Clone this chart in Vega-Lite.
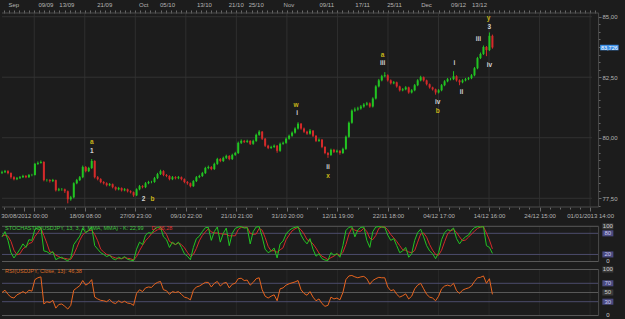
{
"$schema": "https://vega.github.io/schema/vega-lite/v6.json",
"width": 625, "height": 319,
"autosize": {"type": "fit", "contains": "padding"},
"padding": 0,
"background": "#1c1c1c",
"config": {"view": {"stroke": null}, "font": "Liberation Sans", "axis": {"labelFont": "Liberation Sans", "labelFontSize": 6, "labelColor": "#b4b4b4", "tickColor": "#6a6a6a", "domainColor": "#555555"}, "text": {"font": "Liberation Sans"}},
"datasets": {
"bars": [
{"i":0,"o":78.55,"h":78.64,"l":78.50,"c":78.58,"k":70,"d":72,"r":50},
{"i":1,"o":78.58,"h":78.67,"l":78.54,"c":78.62,"k":85,"d":75,"r":55},
{"i":2,"o":78.62,"h":78.66,"l":78.49,"c":78.54,"k":60,"d":72,"r":46},
{"i":3,"o":78.54,"h":78.57,"l":78.31,"c":78.37,"k":25,"d":57,"r":40},
{"i":4,"o":78.37,"h":78.41,"l":78.24,"c":78.29,"k":10,"d":32,"r":38},
{"i":5,"o":78.29,"h":78.38,"l":78.25,"c":78.33,"k":22,"d":19,"r":45},
{"i":6,"o":78.33,"h":78.42,"l":78.30,"c":78.37,"k":35,"d":22,"r":48},
{"i":7,"o":78.37,"h":78.47,"l":78.34,"c":78.42,"k":50,"d":36,"r":52},
{"i":8,"o":78.42,"h":78.46,"l":78.33,"c":78.37,"k":40,"d":42,"r":48},
{"i":9,"o":78.37,"h":78.50,"l":78.34,"c":78.46,"k":62,"d":51,"r":55},
{"i":10,"o":78.46,"h":78.51,"l":78.41,"c":78.46,"k":60,"d":54,"r":53},
{"i":11,"o":78.46,"h":78.96,"l":78.44,"c":78.92,"k":92,"d":71,"r":78},
{"i":12,"o":78.92,"h":79.02,"l":78.88,"c":78.96,"k":95,"d":82,"r":82},
{"i":13,"o":78.96,"h":79.06,"l":78.93,"c":79.00,"k":97,"d":95,"r":84},
{"i":14,"o":79.00,"h":79.03,"l":78.20,"c":78.25,"k":30,"d":74,"r":25},
{"i":15,"o":78.25,"h":78.30,"l":78.19,"c":78.25,"k":28,"d":52,"r":30},
{"i":16,"o":78.25,"h":78.29,"l":78.15,"c":78.21,"k":22,"d":27,"r":28},
{"i":17,"o":78.21,"h":78.30,"l":78.17,"c":78.25,"k":28,"d":26,"r":33},
{"i":18,"o":78.25,"h":78.27,"l":77.78,"c":77.83,"k":5,"d":18,"r":16},
{"i":19,"o":77.83,"h":77.93,"l":77.79,"c":77.87,"k":10,"d":14,"r":24},
{"i":20,"o":77.87,"h":77.92,"l":77.81,"c":77.87,"k":12,"d":9,"r":25},
{"i":21,"o":77.87,"h":77.90,"l":77.72,"c":77.79,"k":6,"d":9,"r":20},
{"i":22,"o":77.79,"h":77.82,"l":77.29,"c":77.46,"k":2,"d":7,"r":14},
{"i":23,"o":77.46,"h":77.60,"l":77.40,"c":77.54,"k":10,"d":6,"r":22},
{"i":24,"o":77.54,"h":78.16,"l":77.50,"c":78.12,"k":48,"d":20,"r":55},
{"i":25,"o":78.12,"h":78.30,"l":78.08,"c":78.25,"k":60,"d":39,"r":60},
{"i":26,"o":78.25,"h":78.42,"l":78.21,"c":78.37,"k":72,"d":60,"r":65},
{"i":27,"o":78.37,"h":78.85,"l":78.33,"c":78.79,"k":95,"d":76,"r":76},
{"i":28,"o":78.79,"h":78.83,"l":78.57,"c":78.62,"k":82,"d":83,"r":66},
{"i":29,"o":78.62,"h":78.80,"l":78.58,"c":78.75,"k":88,"d":88,"r":70},
{"i":30,"o":78.75,"h":79.12,"l":78.71,"c":79.04,"k":98,"d":89,"r":78},
{"i":31,"o":79.04,"h":79.07,"l":78.32,"c":78.37,"k":45,"d":77,"r":40},
{"i":32,"o":78.37,"h":78.42,"l":78.24,"c":78.29,"k":35,"d":59,"r":36},
{"i":33,"o":78.29,"h":78.33,"l":78.12,"c":78.17,"k":25,"d":35,"r":33},
{"i":34,"o":78.17,"h":78.21,"l":78.07,"c":78.12,"k":20,"d":27,"r":32},
{"i":35,"o":78.12,"h":78.16,"l":77.99,"c":78.04,"k":14,"d":20,"r":30},
{"i":36,"o":78.04,"h":78.13,"l":78.00,"c":78.08,"k":18,"d":17,"r":35},
{"i":37,"o":78.08,"h":78.11,"l":77.91,"c":77.96,"k":8,"d":13,"r":28},
{"i":38,"o":77.96,"h":77.99,"l":77.82,"c":77.87,"k":5,"d":10,"r":26},
{"i":39,"o":77.87,"h":77.97,"l":77.83,"c":77.92,"k":12,"d":8,"r":32},
{"i":40,"o":77.92,"h":77.95,"l":77.78,"c":77.83,"k":8,"d":8,"r":28},
{"i":41,"o":77.83,"h":77.92,"l":77.79,"c":77.87,"k":14,"d":11,"r":31},
{"i":42,"o":77.87,"h":77.90,"l":77.74,"c":77.79,"k":6,"d":9,"r":27},
{"i":43,"o":77.79,"h":77.83,"l":77.70,"c":77.75,"k":4,"d":8,"r":26},
{"i":44,"o":77.75,"h":77.78,"l":77.56,"c":77.62,"k":2,"d":4,"r":22},
{"i":45,"o":77.62,"h":77.91,"l":77.59,"c":77.87,"k":35,"d":14,"r":48},
{"i":46,"o":77.87,"h":78.05,"l":77.83,"c":78.00,"k":55,"d":31,"r":56},
{"i":47,"o":78.00,"h":78.04,"l":77.91,"c":77.96,"k":48,"d":46,"r":52},
{"i":48,"o":77.96,"h":78.17,"l":77.92,"c":78.12,"k":75,"d":59,"r":60},
{"i":49,"o":78.12,"h":78.22,"l":78.08,"c":78.17,"k":82,"d":68,"r":62},
{"i":50,"o":78.17,"h":78.22,"l":78.12,"c":78.17,"k":80,"d":79,"r":61},
{"i":51,"o":78.17,"h":78.38,"l":78.14,"c":78.33,"k":92,"d":85,"r":68},
{"i":52,"o":78.33,"h":78.55,"l":78.29,"c":78.50,"k":97,"d":90,"r":72},
{"i":53,"o":78.50,"h":78.68,"l":78.46,"c":78.62,"k":98,"d":96,"r":74},
{"i":54,"o":78.62,"h":78.66,"l":78.41,"c":78.46,"k":70,"d":88,"r":56},
{"i":55,"o":78.46,"h":78.50,"l":78.37,"c":78.42,"k":62,"d":77,"r":54},
{"i":56,"o":78.42,"h":78.45,"l":78.24,"c":78.29,"k":40,"d":57,"r":46},
{"i":57,"o":78.29,"h":78.42,"l":78.25,"c":78.37,"k":55,"d":52,"r":52},
{"i":58,"o":78.37,"h":78.41,"l":78.28,"c":78.33,"k":48,"d":48,"r":50},
{"i":59,"o":78.33,"h":78.42,"l":78.29,"c":78.37,"k":55,"d":53,"r":52},
{"i":60,"o":78.37,"h":78.40,"l":78.24,"c":78.29,"k":40,"d":48,"r":46},
{"i":61,"o":78.29,"h":78.32,"l":78.12,"c":78.17,"k":22,"d":39,"r":40},
{"i":62,"o":78.17,"h":78.21,"l":78.06,"c":78.12,"k":15,"d":26,"r":38},
{"i":63,"o":78.12,"h":78.15,"l":77.95,"c":78.00,"k":5,"d":14,"r":34},
{"i":64,"o":78.00,"h":78.25,"l":77.97,"c":78.21,"k":40,"d":20,"r":55},
{"i":65,"o":78.21,"h":78.42,"l":78.17,"c":78.37,"k":65,"d":37,"r":62},
{"i":66,"o":78.37,"h":78.47,"l":78.33,"c":78.42,"k":72,"d":59,"r":64},
{"i":67,"o":78.42,"h":78.59,"l":78.38,"c":78.54,"k":85,"d":74,"r":68},
{"i":68,"o":78.54,"h":78.80,"l":78.50,"c":78.75,"k":96,"d":84,"r":72},
{"i":69,"o":78.75,"h":78.85,"l":78.70,"c":78.79,"k":97,"d":93,"r":72},
{"i":70,"o":78.79,"h":78.83,"l":78.66,"c":78.71,"k":60,"d":84,"r":62},
{"i":71,"o":78.71,"h":78.97,"l":78.67,"c":78.92,"k":85,"d":81,"r":70},
{"i":72,"o":78.92,"h":79.17,"l":78.88,"c":79.12,"k":98,"d":81,"r":74},
{"i":73,"o":79.12,"h":79.16,"l":78.99,"c":79.04,"k":55,"d":79,"r":64},
{"i":74,"o":79.04,"h":79.22,"l":79.00,"c":79.17,"k":80,"d":78,"r":70},
{"i":75,"o":79.17,"h":79.30,"l":79.12,"c":79.25,"k":95,"d":77,"r":72},
{"i":76,"o":79.25,"h":79.28,"l":79.07,"c":79.12,"k":45,"d":73,"r":60},
{"i":77,"o":79.12,"h":79.34,"l":79.08,"c":79.29,"k":80,"d":73,"r":68},
{"i":78,"o":79.29,"h":79.42,"l":79.25,"c":79.37,"k":94,"d":73,"r":70},
{"i":79,"o":79.37,"h":79.84,"l":79.33,"c":79.79,"k":98,"d":91,"r":80},
{"i":80,"o":79.79,"h":79.93,"l":79.74,"c":79.87,"k":99,"d":97,"r":81},
{"i":81,"o":79.87,"h":79.91,"l":79.78,"c":79.83,"k":95,"d":97,"r":76},
{"i":82,"o":79.83,"h":79.92,"l":79.79,"c":79.87,"k":96,"d":97,"r":77},
{"i":83,"o":79.87,"h":79.90,"l":79.70,"c":79.75,"k":50,"d":80,"r":66},
{"i":84,"o":79.75,"h":79.92,"l":79.71,"c":79.87,"k":85,"d":77,"r":72},
{"i":85,"o":79.87,"h":80.17,"l":79.83,"c":80.12,"k":98,"d":78,"r":80},
{"i":86,"o":80.12,"h":80.31,"l":80.08,"c":80.25,"k":99,"d":94,"r":82},
{"i":87,"o":80.25,"h":80.28,"l":79.91,"c":79.96,"k":70,"d":89,"r":56},
{"i":88,"o":79.96,"h":79.99,"l":79.62,"c":79.67,"k":35,"d":68,"r":42},
{"i":89,"o":79.67,"h":79.71,"l":79.53,"c":79.58,"k":25,"d":43,"r":38},
{"i":90,"o":79.58,"h":79.67,"l":79.54,"c":79.62,"k":30,"d":30,"r":42},
{"i":91,"o":79.62,"h":79.72,"l":79.58,"c":79.67,"k":38,"d":31,"r":45},
{"i":92,"o":79.67,"h":79.70,"l":79.38,"c":79.46,"k":10,"d":26,"r":32},
{"i":93,"o":79.46,"h":79.80,"l":79.42,"c":79.75,"k":50,"d":33,"r":58},
{"i":94,"o":79.75,"h":79.84,"l":79.71,"c":79.79,"k":58,"d":39,"r":60},
{"i":95,"o":79.79,"h":80.01,"l":79.75,"c":79.96,"k":78,"d":62,"r":66},
{"i":96,"o":79.96,"h":80.13,"l":79.92,"c":80.08,"k":88,"d":75,"r":69},
{"i":97,"o":80.08,"h":80.26,"l":80.04,"c":80.21,"k":94,"d":87,"r":71},
{"i":98,"o":80.21,"h":80.43,"l":80.17,"c":80.38,"k":97,"d":93,"r":73},
{"i":99,"o":80.38,"h":80.64,"l":80.34,"c":80.58,"k":99,"d":97,"r":76},
{"i":100,"o":80.58,"h":80.61,"l":80.33,"c":80.38,"k":75,"d":90,"r":56},
{"i":101,"o":80.38,"h":80.42,"l":80.20,"c":80.25,"k":60,"d":78,"r":48},
{"i":102,"o":80.25,"h":80.29,"l":80.12,"c":80.17,"k":50,"d":62,"r":44},
{"i":103,"o":80.17,"h":80.36,"l":80.13,"c":80.29,"k":65,"d":58,"r":52},
{"i":104,"o":80.29,"h":80.32,"l":80.03,"c":80.08,"k":35,"d":50,"r":40},
{"i":105,"o":80.08,"h":80.11,"l":79.82,"c":79.87,"k":15,"d":38,"r":32},
{"i":106,"o":79.87,"h":79.97,"l":79.83,"c":79.92,"k":22,"d":24,"r":36},
{"i":107,"o":79.92,"h":79.95,"l":79.57,"c":79.62,"k":8,"d":15,"r":26},
{"i":108,"o":79.62,"h":79.65,"l":79.32,"c":79.37,"k":4,"d":11,"r":20},
{"i":109,"o":79.37,"h":79.41,"l":79.17,"c":79.29,"k":3,"d":5,"r":22},
{"i":110,"o":79.29,"h":79.55,"l":79.25,"c":79.50,"k":25,"d":11,"r":40},
{"i":111,"o":79.50,"h":79.54,"l":79.37,"c":79.42,"k":18,"d":15,"r":36},
{"i":112,"o":79.42,"h":79.51,"l":79.38,"c":79.46,"k":22,"d":22,"r":38},
{"i":113,"o":79.46,"h":79.49,"l":79.30,"c":79.37,"k":12,"d":17,"r":34},
{"i":114,"o":79.37,"h":79.59,"l":79.33,"c":79.54,"k":45,"d":26,"r":50},
{"i":115,"o":79.54,"h":80.09,"l":79.50,"c":80.04,"k":88,"d":48,"r":78},
{"i":116,"o":80.04,"h":80.67,"l":80.00,"c":80.62,"k":97,"d":77,"r":86},
{"i":117,"o":80.62,"h":81.17,"l":80.58,"c":81.12,"k":99,"d":95,"r":87},
{"i":118,"o":81.12,"h":81.25,"l":81.07,"c":81.17,"k":70,"d":89,"r":84},
{"i":119,"o":81.17,"h":81.28,"l":81.12,"c":81.21,"k":90,"d":86,"r":82},
{"i":120,"o":81.21,"h":81.35,"l":81.16,"c":81.29,"k":97,"d":86,"r":84},
{"i":121,"o":81.29,"h":81.43,"l":81.24,"c":81.37,"k":98,"d":95,"r":85},
{"i":122,"o":81.37,"h":81.48,"l":81.33,"c":81.42,"k":60,"d":85,"r":80},
{"i":123,"o":81.42,"h":81.46,"l":81.24,"c":81.29,"k":40,"d":66,"r":68},
{"i":124,"o":81.29,"h":81.67,"l":81.25,"c":81.62,"k":85,"d":62,"r":76},
{"i":125,"o":81.62,"h":82.17,"l":81.58,"c":82.12,"k":98,"d":74,"r":80},
{"i":126,"o":82.12,"h":82.43,"l":82.08,"c":82.37,"k":99,"d":94,"r":83},
{"i":127,"o":82.37,"h":82.60,"l":82.33,"c":82.54,"k":98,"d":98,"r":82},
{"i":128,"o":82.54,"h":82.71,"l":82.50,"c":82.58,"k":97,"d":98,"r":82},
{"i":129,"o":82.58,"h":82.62,"l":82.32,"c":82.37,"k":75,"d":90,"r":62},
{"i":130,"o":82.37,"h":82.41,"l":82.20,"c":82.25,"k":60,"d":77,"r":54},
{"i":131,"o":82.25,"h":82.34,"l":82.21,"c":82.29,"k":65,"d":67,"r":56},
{"i":132,"o":82.29,"h":82.32,"l":82.07,"c":82.12,"k":45,"d":57,"r":46},
{"i":133,"o":82.12,"h":82.15,"l":81.91,"c":81.96,"k":25,"d":45,"r":40},
{"i":134,"o":81.96,"h":82.05,"l":81.92,"c":82.00,"k":30,"d":33,"r":43},
{"i":135,"o":82.00,"h":82.13,"l":81.96,"c":82.08,"k":40,"d":32,"r":47},
{"i":136,"o":82.08,"h":82.11,"l":81.82,"c":81.87,"k":12,"d":27,"r":36},
{"i":137,"o":81.87,"h":82.01,"l":81.83,"c":81.96,"k":22,"d":25,"r":42},
{"i":138,"o":81.96,"h":82.22,"l":81.92,"c":82.17,"k":60,"d":31,"r":58},
{"i":139,"o":82.17,"h":82.42,"l":82.13,"c":82.37,"k":82,"d":55,"r":66},
{"i":140,"o":82.37,"h":82.56,"l":82.33,"c":82.50,"k":92,"d":78,"r":70},
{"i":141,"o":82.50,"h":82.53,"l":82.32,"c":82.37,"k":70,"d":81,"r":58},
{"i":142,"o":82.37,"h":82.40,"l":82.16,"c":82.21,"k":45,"d":69,"r":46},
{"i":143,"o":82.21,"h":82.24,"l":82.03,"c":82.08,"k":30,"d":48,"r":40},
{"i":144,"o":82.08,"h":82.11,"l":81.95,"c":82.00,"k":22,"d":32,"r":38},
{"i":145,"o":82.00,"h":82.03,"l":81.78,"c":81.87,"k":8,"d":20,"r":32},
{"i":146,"o":81.87,"h":82.01,"l":81.83,"c":81.96,"k":25,"d":18,"r":42},
{"i":147,"o":81.96,"h":82.22,"l":81.92,"c":82.17,"k":62,"d":32,"r":58},
{"i":148,"o":82.17,"h":82.38,"l":82.13,"c":82.33,"k":82,"d":56,"r":64},
{"i":149,"o":82.33,"h":82.47,"l":82.29,"c":82.42,"k":90,"d":78,"r":66},
{"i":150,"o":82.42,"h":82.47,"l":82.37,"c":82.42,"k":88,"d":87,"r":64},
{"i":151,"o":82.42,"h":82.75,"l":82.38,"c":82.54,"k":95,"d":91,"r":70},
{"i":152,"o":82.54,"h":82.58,"l":82.32,"c":82.37,"k":65,"d":83,"r":54},
{"i":153,"o":82.37,"h":82.41,"l":82.17,"c":82.29,"k":50,"d":70,"r":48},
{"i":154,"o":82.29,"h":82.42,"l":82.25,"c":82.37,"k":62,"d":59,"r":55},
{"i":155,"o":82.37,"h":82.47,"l":82.33,"c":82.42,"k":70,"d":61,"r":58},
{"i":156,"o":82.42,"h":82.51,"l":82.38,"c":82.46,"k":75,"d":69,"r":60},
{"i":157,"o":82.46,"h":82.63,"l":82.42,"c":82.58,"k":88,"d":78,"r":64},
{"i":158,"o":82.58,"h":82.92,"l":82.54,"c":82.87,"k":96,"d":86,"r":74},
{"i":159,"o":82.87,"h":83.34,"l":82.83,"c":83.29,"k":99,"d":94,"r":82},
{"i":160,"o":83.29,"h":83.52,"l":83.25,"c":83.46,"k":98,"d":98,"r":83},
{"i":161,"o":83.46,"h":83.81,"l":83.42,"c":83.75,"k":99,"d":99,"r":86},
{"i":162,"o":83.75,"h":83.79,"l":83.37,"c":83.62,"k":45,"d":81,"r":70},
{"i":163,"o":83.62,"h":84.35,"l":83.58,"c":84.21,"k":40,"d":61,"r":80},
{"i":164,"o":84.21,"h":84.26,"l":83.68,"c":83.73,"k":23,"d":36,"r":46}
],
"grid": [{"g":10.77},{"g":27.67},{"g":44.57},{"g":61.47},{"g":78.37},{"g":95.27},{"g":112.17},{"g":129.07},{"g":145.97},{"g":162.87},{"g":179.77},{"g":196.67}],
"pgrid": [{"v":77.5},{"v":80},{"v":82.5},{"v":85}],
"waves": [
{"i":30,"p":79.82,"t":"a","k":"y"},{"i":30,"p":79.45,"t":"1","k":"w"},
{"i":47.3,"p":77.47,"t":"2","k":"w"},{"i":50.3,"p":77.47,"t":"b","k":"y"},
{"i":98.3,"p":81.35,"t":"w","k":"y"},{"i":98.7,"p":81.02,"t":"i","k":"w"},
{"i":109,"p":78.79,"t":"ii","k":"w"},{"i":109,"p":78.42,"t":"x","k":"y"},
{"i":127.3,"p":83.42,"t":"a","k":"y"},{"i":127.3,"p":83.09,"t":"iii","k":"w"},
{"i":145.7,"p":81.48,"t":"iv","k":"w"},{"i":145.7,"p":81.11,"t":"b","k":"y"},
{"i":151.3,"p":83.09,"t":"i","k":"w"},{"i":153.7,"p":81.89,"t":"ii","k":"w"},
{"i":159.3,"p":84.08,"t":"iii","k":"w"},{"i":163,"p":83.0,"t":"iv","k":"w"},
{"i":163,"p":84.57,"t":"3","k":"w"},{"i":162.7,"p":84.95,"t":"y","k":"y"}
],
"tag": [{"p":83.726,"t":"83,726"}],
"slv": [{"v":100,"t":"100","k":"edge"},{"v":80,"t":"80","k":"band"},{"v":20,"t":"20","k":"band"},{"v":0,"t":"0","k":"zero"}],
"rlv": [{"v":100,"t":"100","k":"edge"},{"v":70,"t":"70","k":"band"},{"v":50,"t":"50","k":"mid"},{"v":30,"t":"30","k":"band"},{"v":0,"t":"0","k":"zero"}]
},
"resolve": {"scale": {"y": "independent"}, "axis": {"x": "independent", "y": "independent"}},
"layer": [
{"data": {"name": "grid"},
 "mark": {"type": "rule", "color": "#2f2f2f", "strokeWidth": 1},
 "encoding": {
  "x": {"field": "g", "type": "quantitative", "scale": {"domain": [0, 208.333], "nice": false, "zero": false},
   "axis": {"orient": "top", "offset": -13, "title": null, "values": [0.63,2.32,4.01,5.7,7.39,9.08,10.77,12.46,14.15,15.84,17.53,19.22,20.91,22.6,24.29,25.98,27.67,29.36,31.05,32.74,34.43,36.12,37.81,39.5,41.19,42.88,44.57,46.26,47.95,49.64,51.33,53.02,54.71,56.4,58.09,59.78,61.47,63.16,64.85,66.54,68.23,69.92,71.61,73.3,74.99,76.68,78.37,80.06,81.75,83.44,85.13,86.82,88.51,90.2,91.89,93.58,95.27,96.96,98.65,100.34,102.03,103.72,105.41,107.1,108.79,110.48,112.17,113.86,115.55,117.24,118.93,120.62,122.31,124,125.69,127.38,129.07,130.76,132.45,134.14,135.83,137.52,139.21,140.9,142.59,144.28,145.97,147.66,149.35,151.04,152.73,154.42,156.11,157.8,159.49,161.18,162.87,164.56,166.25,167.94,169.63,171.32,173.01,174.7,176.39,178.08,179.77,181.46,183.15,184.84,186.53,188.22,189.91,191.6,193.29,194.98,196.67,198.36],
    "labels": false, "grid": false, "domain": false, "tickColor": "#6a6a6a", "tickSize": 3, "minExtent": 0, "maxExtent": 0}},
  "y": {"datum": 77.139, "type": "quantitative", "scale": {"domain": [72.513, 85.69], "nice": false, "zero": false},
   "axis": {"orient": "right", "offset": -27, "title": null, "values": [77.1875,77.8125,78.125,78.4375,78.75,79.0625,79.375,79.6875,80.3125,80.625,80.9375,81.25,81.5625,81.875,82.1875,82.8125,83.125,83.4375,83.75,84.0625,84.375,84.6875],
    "labels": false, "grid": false, "domain": false, "tickSize": 2, "tickColor": "#6a6a6a", "minExtent": 0, "maxExtent": 0}},
  "y2": {"datum": 85.153}
 }},
{"data": {"name": "pgrid"},
 "mark": {"type": "rule", "color": "#323232", "strokeWidth": 1},
 "encoding": {
  "x": {"datum": 0, "type": "quantitative", "scale": {"domain": [0, 208.333], "nice": false, "zero": false}, "axis": null},
  "x2": {"datum": 197.3},
  "y": {"field": "v", "type": "quantitative", "scale": {"domain": [72.513, 85.69], "nice": false, "zero": false}, "axis": null}
 }},
{"data": {"name": "tag"},
 "mark": {"type": "rule", "color": "#4a4a4a", "strokeWidth": 1},
 "encoding": {
  "x": {"datum": 199.5, "type": "quantitative", "scale": {"domain": [0, 208.333], "nice": false, "zero": false}, "axis": null},
  "y": {"datum": 77.139, "type": "quantitative", "scale": {"domain": [72.513, 85.69], "nice": false, "zero": false}, "axis": null},
  "y2": {"datum": 85.153}
 }},
{"data": {"name": "tag"},
 "mark": {"type": "rule", "color": "#4a4a4a", "strokeWidth": 1},
 "encoding": {
  "x": {"datum": 0, "type": "quantitative", "scale": {"domain": [0, 208.333], "nice": false, "zero": false}, "axis": null},
  "x2": {"datum": 199.5},
  "y": {"datum": 85.153, "type": "quantitative", "scale": {"domain": [72.513, 85.69], "nice": false, "zero": false}, "axis": null}
 }},
{"data": {"name": "tag"},
 "mark": {"type": "rule", "color": "#4a4a4a", "strokeWidth": 1},
 "encoding": {
  "x": {"datum": 0, "type": "quantitative", "scale": {"domain": [0, 208.333], "nice": false, "zero": false}, "axis": null},
  "x2": {"datum": 199.5},
  "y": {"datum": 77.139, "type": "quantitative", "scale": {"domain": [72.513, 85.69], "nice": false, "zero": false}, "axis": null}
 }},
{"data": {"name": "bars"},
 "mark": {"type": "rule", "strokeWidth": 1},
 "encoding": {
  "x": {"field": "i", "type": "quantitative", "scale": {"domain": [0, 208.333], "nice": false, "zero": false},
   "axis": {"orient": "top", "offset": -13, "title": null, "values": [2,12,19,31.67,45.67,52.67,65,75.67,82.33,94,106,118,128.67,140,150,157],
    "labelExpr": "datum.value < 5 ? 'Sep' : datum.value < 15 ? '09/09' : datum.value < 25 ? '13/09' : datum.value < 40 ? '21/09' : datum.value < 50 ? 'Oct' : datum.value < 60 ? '05/10' : datum.value < 70 ? '13/10' : datum.value < 79 ? '21/10' : datum.value < 88 ? '25/10' : datum.value < 100 ? 'Nov' : datum.value < 112 ? '09/11' : datum.value < 124 ? '17/11' : datum.value < 134 ? '25/11' : datum.value < 145 ? 'Dec' : datum.value < 154 ? '09/12' : '13/12'",
    "labelAlign": "left", "ticks": false, "tickSize": 0, "domain": false, "grid": false, "labelPadding": 6, "labelFlush": false, "labelOverlap": false, "minExtent": 0, "maxExtent": 0, "labelColor": "#b4b4b4", "labelFontSize": 6}},
  "y": {"field": "l", "type": "quantitative", "scale": {"domain": [72.513, 85.69], "nice": false, "zero": false},
   "axis": {"orient": "right", "offset": -27, "title": null, "values": [77.5, 80, 82.5, 85],
    "labelExpr": "replace(format(datum.value, '.2f'), '.', ',')",
    "grid": false, "tickSize": 3, "tickColor": "#6a6a6a", "domain": false, "labelPadding": 1, "minExtent": 0, "maxExtent": 0, "labelFontSize": 6, "labelColor": "#b4b4b4", "labelOverlap": false, "labelFlush": false}},
  "y2": {"field": "h"},
  "color": {"condition": {"test": "datum.c >= datum.o", "value": "#22c422"}, "value": "#d42a2a"}
 }},
{"data": {"name": "bars"},
 "mark": {"type": "rule", "strokeWidth": 2, "strokeCap": "butt"},
 "encoding": {
  "x": {"field": "i", "type": "quantitative", "scale": {"domain": [0, 208.333], "nice": false, "zero": false}, "axis": null},
  "y": {"field": "o", "type": "quantitative", "scale": {"domain": [72.513, 85.69], "nice": false, "zero": false}, "axis": null},
  "y2": {"field": "c"},
  "color": {"condition": {"test": "datum.c >= datum.o", "value": "#22c422"}, "value": "#d42a2a"}
 }},
{"data": {"name": "waves"},
 "mark": {"type": "text", "fontSize": 6.5, "fontWeight": "bold", "align": "center", "baseline": "middle"},
 "encoding": {
  "x": {"field": "i", "type": "quantitative", "scale": {"domain": [0, 208.333], "nice": false, "zero": false}, "axis": null},
  "y": {"field": "p", "type": "quantitative", "scale": {"domain": [72.513, 85.69], "nice": false, "zero": false}, "axis": null},
  "text": {"field": "t"},
  "color": {"condition": {"test": "datum.k == 'y'", "value": "#c8b418"}, "value": "#d4d4d4"}
 }},
{"data": {"name": "tag"},
 "mark": {"type": "point", "shape": "M-1,-0.3L1,-0.3L1,0.3L-1,0.3Z", "size": 340, "filled": true, "opacity": 1, "color": "#3d8fe6"},
 "encoding": {
  "x": {"datum": 203.1, "type": "quantitative", "scale": {"domain": [0, 208.333], "nice": false, "zero": false}, "axis": null},
  "y": {"field": "p", "type": "quantitative", "scale": {"domain": [72.513, 85.69], "nice": false, "zero": false}, "axis": null}
 }},
{"data": {"name": "tag"},
 "mark": {"type": "text", "fontSize": 5.5, "align": "center", "baseline": "middle", "color": "#ffffff"},
 "encoding": {
  "x": {"datum": 203.1, "type": "quantitative", "scale": {"domain": [0, 208.333], "nice": false, "zero": false}, "axis": null},
  "y": {"field": "p", "type": "quantitative", "scale": {"domain": [72.513, 85.69], "nice": false, "zero": false}, "axis": null},
  "text": {"field": "t"}
 }},
{"data": {"name": "grid"},
 "mark": {"type": "rule", "color": "#272727", "strokeWidth": 1},
 "encoding": {
  "x": {"field": "g", "type": "quantitative", "scale": {"domain": [0, 208.333], "nice": false, "zero": false},
   "axis": {"orient": "bottom", "offset": -112, "title": null, "values": [7.39,10.77,27.67,44.57,61.47,78.37,95.27,112.17,129.07,145.97,162.87,179.77,196.67],
    "labelExpr": "datum.value < 9 ? '30/08/2012 00:00' : datum.value < 20 ? '' : datum.value < 30 ? '18/09 08:00' : datum.value < 50 ? '27/09 23:00' : datum.value < 70 ? '09/10 22:00' : datum.value < 85 ? '21/10 21:00' : datum.value < 100 ? '31/10 20:00' : datum.value < 120 ? '12/11 19:00' : datum.value < 135 ? '22/11 18:00' : datum.value < 150 ? '04/12 17:00' : datum.value < 170 ? '14/12 16:00' : datum.value < 185 ? '24/12 15:00' : '01/01/2013 14:00'",
    "grid": false, "domain": false, "tickColor": "#6a6a6a", "tickSize": 4,
    "labelPadding": 1, "labelFlush": false, "labelOverlap": false, "minExtent": 0, "maxExtent": 0, "labelFontSize": 6, "labelColor": "#b4b4b4"}},
  "y": {"datum": 0, "type": "quantitative", "scale": {"domain": [-163.4, 742.9], "nice": false, "zero": false}, "axis": null},
  "y2": {"datum": 100}
 }},
{"data": {"name": "slv"},
 "mark": {"type": "rule", "strokeWidth": 1},
 "encoding": {
  "x": {"datum": 0, "type": "quantitative", "scale": {"domain": [0, 208.333], "nice": false, "zero": false}, "axis": null},
  "x2": {"datum": 199.5},
  "y": {"field": "v", "type": "quantitative", "scale": {"domain": [-163.4, 742.9], "nice": false, "zero": false}, "axis": null},
  "color": {"condition": {"test": "datum.k == 'band'", "value": "#4c4c6c"}, "value": "#5a5a5a"}
 }},
{"data": {"name": "bars"},
 "mark": {"type": "line", "strokeWidth": 1, "color": "#d42a2a"},
 "encoding": {
  "x": {"field": "i", "type": "quantitative", "scale": {"domain": [0, 208.333], "nice": false, "zero": false}, "axis": null},
  "y": {"field": "d", "type": "quantitative", "scale": {"domain": [-163.4, 742.9], "nice": false, "zero": false}, "axis": null}
 }},
{"data": {"name": "bars"},
 "mark": {"type": "line", "strokeWidth": 1, "color": "#22c422"},
 "encoding": {
  "x": {"field": "i", "type": "quantitative", "scale": {"domain": [0, 208.333], "nice": false, "zero": false}, "axis": null},
  "y": {"field": "k", "type": "quantitative", "scale": {"domain": [-163.4, 742.9], "nice": false, "zero": false}, "axis": null}
 }},
{"data": {"name": "tag"},
 "mark": {"type": "text", "fontSize": 5.5, "align": "left", "baseline": "middle", "color": "#3cc83c", "text": "STOCHASTIC(USDJPY, 13, 3, 3, MMA, MMA) - K: 22,99"},
 "encoding": {
  "x": {"datum": 1, "type": "quantitative", "scale": {"domain": [0, 208.333], "nice": false, "zero": false}, "axis": null},
  "y": {"datum": 95, "type": "quantitative", "scale": {"domain": [-163.4, 742.9], "nice": false, "zero": false}, "axis": null}
 }},
{"data": {"name": "tag"},
 "mark": {"type": "text", "fontSize": 5.5, "align": "left", "baseline": "middle", "color": "#e03030", "text": "D: 36,28"},
 "encoding": {
  "x": {"datum": 50, "type": "quantitative", "scale": {"domain": [0, 208.333], "nice": false, "zero": false}, "axis": null},
  "y": {"datum": 95, "type": "quantitative", "scale": {"domain": [-163.4, 742.9], "nice": false, "zero": false}, "axis": null}
 }},
{"data": {"name": "slv"},
 "mark": {"type": "point", "shape": "M-1,-0.55L1,-0.55L1,0.55L-1,0.55Z", "size": 121, "filled": true, "strokeWidth": 0},
 "encoding": {
  "x": {"datum": 202.6, "type": "quantitative", "scale": {"domain": [0, 208.333], "nice": false, "zero": false}, "axis": null},
  "y": {"field": "v", "type": "quantitative", "scale": {"domain": [-163.4, 742.9], "nice": false, "zero": false}, "axis": null},
  "color": {"condition": {"test": "datum.k == 'band'", "value": "#4a4a80"}, "value": "#3a3a3a"},
  "opacity": {"condition": {"test": "datum.k == 'zero'", "value": 0}, "value": 1}
 }},
{"data": {"name": "slv"},
 "mark": {"type": "text", "fontSize": 6, "align": "center", "baseline": "middle"},
 "encoding": {
  "x": {"datum": 202.6, "type": "quantitative", "scale": {"domain": [0, 208.333], "nice": false, "zero": false}, "axis": null},
  "y": {"field": "v", "type": "quantitative", "scale": {"domain": [-163.4, 742.9], "nice": false, "zero": false}, "axis": null},
  "text": {"field": "t"},
  "color": {"condition": {"test": "datum.k == 'band'", "value": "#c8c8f0"}, "value": "#cccccc"}
 }},
{"data": {"name": "tag"},
 "mark": {"type": "rule", "color": "#4a4a4a", "strokeWidth": 1},
 "encoding": {
  "x": {"datum": 199.5, "type": "quantitative", "scale": {"domain": [0, 208.333], "nice": false, "zero": false}, "axis": null},
  "y": {"datum": 0, "type": "quantitative", "scale": {"domain": [-163.4, 742.9], "nice": false, "zero": false}, "axis": null},
  "y2": {"datum": 100}
 }},
{"data": {"name": "grid"},
 "mark": {"type": "rule", "color": "#272727", "strokeWidth": 1},
 "encoding": {
  "x": {"field": "g", "type": "quantitative", "scale": {"domain": [0, 208.333], "nice": false, "zero": false},
   "axis": {"orient": "bottom", "offset": -112, "title": null, "values": [0.63,4.01,7.39,14.15,17.53,20.91,24.29,31.05,34.43,37.81,41.19,47.95,51.33,54.71,58.09,64.85,68.23,71.61,74.99,81.75,85.13,88.51,91.89,98.65,102.03,105.41,108.79,115.55,118.93,122.31,125.69,132.45,135.83,139.21,142.59,149.35,152.73,156.11,159.49,166.25,169.63,173.01,176.39,183.15,186.53,189.91,193.29],
    "labels": false, "grid": false, "domain": false, "tickColor": "#6a6a6a", "tickSize": 2, "minExtent": 0, "maxExtent": 0}},
  "y": {"datum": 0, "type": "quantitative", "scale": {"domain": [-7.61, 685.87], "nice": false, "zero": false}, "axis": null},
  "y2": {"datum": 100}
 }},
{"data": {"name": "rlv"},
 "mark": {"type": "rule", "strokeWidth": 1},
 "encoding": {
  "x": {"datum": 0, "type": "quantitative", "scale": {"domain": [0, 208.333], "nice": false, "zero": false}, "axis": null},
  "x2": {"datum": 199.5},
  "y": {"field": "v", "type": "quantitative", "scale": {"domain": [-7.61, 685.87], "nice": false, "zero": false}, "axis": null},
  "color": {"condition": {"test": "datum.k == 'band'", "value": "#4c4c6c"}, "value": "#5a5a5a"}
 }},
{"data": {"name": "bars"},
 "mark": {"type": "line", "strokeWidth": 1, "color": "#e8641e"},
 "encoding": {
  "x": {"field": "i", "type": "quantitative", "scale": {"domain": [0, 208.333], "nice": false, "zero": false}, "axis": null},
  "y": {"field": "r", "type": "quantitative", "scale": {"domain": [-7.61, 685.87], "nice": false, "zero": false}, "axis": null}
 }},
{"data": {"name": "tag"},
 "mark": {"type": "text", "fontSize": 5.5, "align": "left", "baseline": "middle", "color": "#dc6e28", "text": "RSI(USDJPY, Close, 13): 46,38"},
 "encoding": {
  "x": {"datum": 1, "type": "quantitative", "scale": {"domain": [0, 208.333], "nice": false, "zero": false}, "axis": null},
  "y": {"datum": 96, "type": "quantitative", "scale": {"domain": [-7.61, 685.87], "nice": false, "zero": false}, "axis": null}
 }},
{"data": {"name": "rlv"},
 "mark": {"type": "point", "shape": "M-1,-0.55L1,-0.55L1,0.55L-1,0.55Z", "size": 121, "filled": true, "strokeWidth": 0},
 "encoding": {
  "x": {"datum": 202.6, "type": "quantitative", "scale": {"domain": [0, 208.333], "nice": false, "zero": false}, "axis": null},
  "y": {"field": "v", "type": "quantitative", "scale": {"domain": [-7.61, 685.87], "nice": false, "zero": false}, "axis": null},
  "color": {"condition": {"test": "datum.k == 'band'", "value": "#4a4a80"}, "value": "#3a3a3a"},
  "opacity": {"condition": {"test": "datum.k == 'zero'", "value": 0}, "value": 1}
 }},
{"data": {"name": "rlv"},
 "mark": {"type": "text", "fontSize": 6, "align": "center", "baseline": "middle"},
 "encoding": {
  "x": {"datum": 202.6, "type": "quantitative", "scale": {"domain": [0, 208.333], "nice": false, "zero": false}, "axis": null},
  "y": {"field": "v", "type": "quantitative", "scale": {"domain": [-7.61, 685.87], "nice": false, "zero": false}, "axis": null},
  "text": {"field": "t"},
  "color": {"condition": {"test": "datum.k == 'band'", "value": "#c8c8f0"}, "value": "#cccccc"}
 }},
{"data": {"name": "tag"},
 "mark": {"type": "rule", "color": "#4a4a4a", "strokeWidth": 1},
 "encoding": {
  "x": {"datum": 199.5, "type": "quantitative", "scale": {"domain": [0, 208.333], "nice": false, "zero": false}, "axis": null},
  "y": {"datum": 0, "type": "quantitative", "scale": {"domain": [-7.61, 685.87], "nice": false, "zero": false}, "axis": null},
  "y2": {"datum": 100}
 }}
]
}
